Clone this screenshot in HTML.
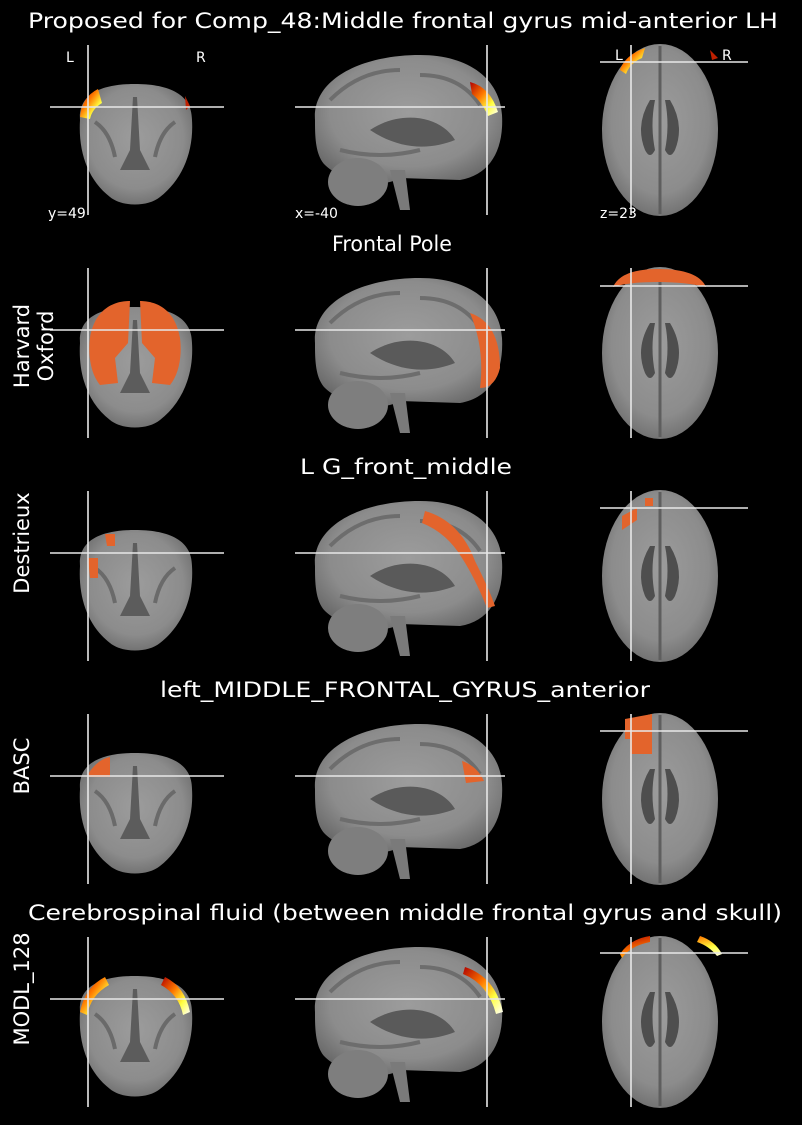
<!DOCTYPE html>
<html><head><meta charset="utf-8"><style>
body{margin:0;background:#000;}
svg{display:block;font-family:"DejaVu Sans","Liberation Sans",sans-serif;}
</style></head><body>
<svg id="fig" width="802" height="1125" viewBox="0 0 802 1125">
<defs>
<radialGradient id="gm" cx="50%" cy="45%" r="60%">
<stop offset="0%" stop-color="#9c9c9c"/><stop offset="70%" stop-color="#8c8c8c"/><stop offset="100%" stop-color="#6a6a6a"/>
</radialGradient>
<linearGradient id="hot" x1="0" y1="0" x2="1" y2="1">
<stop offset="0%" stop-color="#b00000"/><stop offset="40%" stop-color="#ff7a00"/><stop offset="70%" stop-color="#ffff40"/><stop offset="100%" stop-color="#ffffff"/>
</linearGradient>
</defs>
<g id="rows"></g>
</svg>
<script>
const titles=["Proposed for Comp_48:Middle frontal gyrus mid-anterior LH","Frontal Pole","L G_front_middle","left_MIDDLE_FRONTAL_GYRUS_anterior","Cerebrospinal fluid (between middle frontal gyrus and skull)"];
const titleWidths=[750,120,212,490,754];
const titleCenters=[403,392,406,405,405];
const rowLabels=["","Harvard\nOxford","Destrieux","BASC","MODL_128"];
const axialCross=[62,63,62,62,61];
const g=document.getElementById('rows');
const NS="http://www.w3.org/2000/svg";
function el(t,a,p){const e=document.createElementNS(NS,t);for(const k in a)e.setAttribute(k,a[k]);(p||g).appendChild(e);return e;}
function brains(grp){
 el('path',{d:"M80,120 C78,92 105,84 135,84 C165,84 192,92 192,120 C194,152 182,180 160,197 C148,207 122,207 110,197 C88,180 78,152 80,120Z",fill:"url(#gm)"},grp);
 el('path',{d:"M133,97 L137,97 L140,150 L150,170 L120,170 L130,150Z",fill:"#5c5c5c"},grp);
 el('path',{d:"M95,122 q15,10 20,35 M175,122 q-15,10 -20,35",stroke:"#6a6a6a","stroke-width":4,fill:"none"},grp);
 el('path',{d:"M315,120 C312,80 360,55 420,55 C470,55 500,80 502,115 C504,150 490,175 460,180 L400,178 C380,190 340,180 325,165 C315,155 315,135 315,120Z",fill:"url(#gm)"},grp);
 el('ellipse',{cx:358,cy:182,rx:30,ry:24,fill:"#7e7e7e"},grp);
 el('path',{d:"M390,170 L400,210 L410,210 L405,170Z",fill:"#7a7a7a"},grp);
 el('path',{d:"M370,130 C400,110 440,115 455,140 C430,150 400,150 370,130Z",fill:"#5a5a5a"},grp);
 el('path',{d:"M330,100 q30,-30 70,-30 M420,75 q40,0 60,30 M340,150 q40,10 80,0",stroke:"#6d6d6d","stroke-width":4,fill:"none"},grp);
 el('ellipse',{cx:660,cy:130,rx:58,ry:86,fill:"url(#gm)"},grp);
 el('path',{d:"M650,100 q-15,25 -5,50 q5,10 10,0 q-5,-25 0,-50Z M670,100 q15,25 5,50 q-5,10 -10,0 q5,-25 0,-50Z",fill:"#4e4e4e"},grp);
 el('line',{x1:660,y1:46,x2:660,y2:214,stroke:"#5e5e5e","stroke-width":3},grp);
}
for(let r=0;r<5;r++){
 const oy=r*223;
 const grp=el('g',{transform:`translate(0,${oy})`});
 
 
 brains(grp);
 const O="#e3642c";
 if(r===0){
  el('path',{d:"M80,117 q2,-20 18,-28 l4,14 q-10,6 -12,16Z",fill:"url(#hot)"},grp);
  el('path',{d:"M185,96 l5,10 -4,4Z",fill:"#c02000"},grp);
  el('path',{d:"M470,82 q20,5 28,30 l-10,4 q-6,-14 -16,-22Z",fill:"url(#hot)"},grp);
  el('path',{d:"M620,70 q5,-15 25,-22 l-3,10 q-12,5 -16,16Z",fill:"url(#hot)"},grp);
  el('path',{d:"M710,50 l8,8 -6,2Z",fill:"#c02000"},grp);
 } else if(r===1){
  el('path',{d:"M90,115 C95,85 115,78 130,78 L128,120 L115,135 L118,160 L100,162 C90,150 88,130 90,115Z",fill:O},grp);
  el('path',{d:"M180,115 C175,85 155,78 140,78 L142,120 L155,135 L152,160 L170,162 C180,150 182,130 180,115Z",fill:O},grp);
  el('path',{d:"M470,90 q30,10 30,55 q-5,20 -20,20 q5,-40 -10,-75Z",fill:O},grp);
  el('path',{d:"M613,64 q8,-18 45,-18 q40,0 48,18 q-20,-5 -48,-5 q-30,0 -45,5Z",fill:O},grp);
 } else if(r===2){
  el('path',{d:"M105,88 l10,0 0,12 -8,0Z M88,112 l10,0 0,20 -8,0Z",fill:O},grp);
  el('path',{d:"M425,65 q35,10 50,50 q15,30 20,45 l-8,2 q-12,-30 -25,-50 q-15,-25 -40,-35Z",fill:O},grp);
  el('path',{d:"M622,70 l15,-8 0,12 -15,10Z M645,52 l8,0 0,8 -8,0Z",fill:O},grp);
 } else if(r===3){
  el('path',{d:"M88,105 q10,-15 22,-17 l0,20 -22,0Z",fill:O},grp);
  el('path',{d:"M462,92 q15,5 22,20 l-18,2Z",fill:O},grp);
  el('path',{d:"M625,50 l27,-5 0,40 -22,0 0,-15 -5,0Z",fill:O},grp);
 } else {
  el('path',{d:"M80,120 q5,-25 25,-35 l4,8 q-18,10 -22,30Z",fill:"url(#hot)"},grp);
  el('path',{d:"M190,120 q-5,-25 -25,-35 l-4,8 q18,10 22,30Z",fill:"url(#hot)"},grp);
  el('path',{d:"M465,75 q30,10 38,45 l-7,2 q-8,-30 -33,-40Z",fill:"url(#hot)"},grp);
  el('path',{d:"M620,62 q10,-15 30,-18 l0,6 q-20,4 -28,16Z M700,44 q15,5 22,18 l-5,2 q-8,-10 -20,-14Z",fill:"url(#hot)"},grp);
 }
 const cs={stroke:"#e8e8e8","stroke-width":1.6};
 [[88,45,88,215],[50,107,224,107],[487,45,487,215],[295,107,505,107],[631,45,631,215],[600,axialCross[r],748,axialCross[r]]].forEach(l=>{
  const ln=el('line',Object.assign({x1:l[0],y1:l[1],x2:l[2],y2:l[3]},cs),grp);
  
  
 });
 const t=el('text',{x:titleCenters[r],y:28,fill:"#fff","font-size":21,"text-anchor":"middle",textLength:titleWidths[r],lengthAdjust:"spacingAndGlyphs"},grp);
 t.textContent=titles[r];
 
 
 if(rowLabels[r]){
  const lines=rowLabels[r].split("\n");
  const lt=el('text',{transform:`translate(29,${r===1?123:97}) rotate(-90)`,fill:"#fff","font-size":21,"text-anchor":"middle"},grp);
  
  
  lines.forEach((s,i)=>{const ts=el('tspan',{x:0,dy:i===0?0:24},lt);ts.textContent=s;});
 }
 if(r===0){
  [["L",66,62],["R",196,62],["y=49",48,218],["x=-40",295,218],["z=23",600,218],["L",615,60],["R",722,60]].forEach(a=>{
   const tt=el('text',{x:a[1],y:a[2],fill:"#fff","font-size":14},grp);
   tt.textContent=a[0];
   
   
  });
 }
}
</script>
</body></html>
